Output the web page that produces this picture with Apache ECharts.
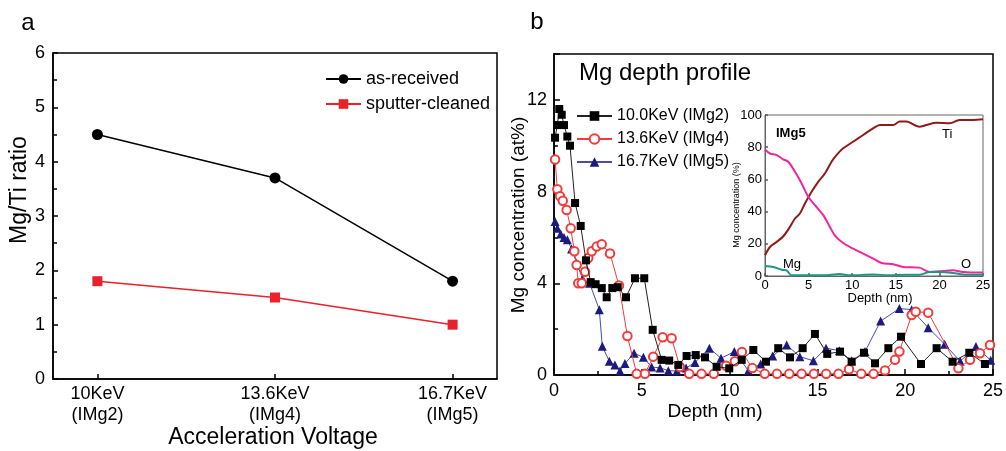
<!DOCTYPE html>
<html><head><meta charset="utf-8">
<script src="https://cdn.jsdelivr.net/npm/echarts@6/dist/echarts.min.js"></script>
<style>html,body{margin:0;padding:0;background:#fff}#c{width:1006px;height:451px}</style>
</head><body><div id="c"></div>
<script>
// ---------- Panel a ----------
const aCats = ['10KeV\n(IMg2)', '13.6KeV\n(IMg4)', '16.7KeV\n(IMg5)'];
const aPos = [0, 1, 2];
const asReceived = [4.5, 3.7, 1.8];
const sputterCleaned = [1.8, 1.5, 1.0];

// ---------- Panel b (main) ----------
const kev10X = [0.06,0.19,0.3,0.44,0.57,0.76,0.91,1.2,1.52,1.82,2.09,2.37,2.72,3.0,3.32,3.63,4.1,4.61,5.14,5.62,6.13,6.56,7.08,7.55,8.07,8.6,9.26,9.98,10.69,11.35,12.07,12.77,13.44,14.16,14.86,15.56,16.29,16.95,17.65,18.28,19.04,19.76,20.9,21.79,22.7,23.65,24.54];
const kev10Y = [10.35,10.9,11.6,11.35,10.9,10.4,10.0,7.5,6.5,5.0,4.05,3.96,3.79,3.39,3.79,3.83,3.39,4.22,4.22,1.97,0.66,0.63,0.44,0.83,0.87,0.77,0.36,0.29,0.66,1.09,0.58,1.17,0.77,1.17,1.79,0.92,1.02,0.58,0.97,0.51,1.17,1.67,0.48,1.17,0.58,0.97,0.48];

const kev136X = [0.06,0.19,0.34,0.5,0.72,0.95,1.16,1.29,1.38,1.58,1.77,1.95,2.15,2.43,2.72,3.19,3.7,4.18,4.71,5.18,5.65,6.19,6.7,7.17,7.7,8.4,9.1,9.8,10.3,10.7,11.3,12.0,12.7,13.4,14.1,14.8,15.5,16.2,16.8,17.5,18.2,18.85,19.42,19.67,20.37,20.6,21.31,23.03,23.69,24.26,24.83];
const kev136Y = [9.4,8.1,7.8,7.6,7.2,6.4,5.4,4.8,4.0,4.0,4.5,5.1,5.4,5.6,5.7,5.3,3.9,1.7,0.05,0.05,0.8,1.65,1.6,0.35,0.05,0.05,0.05,0.4,0.6,1.0,0.3,0.05,0.05,0.05,0.05,0.05,0.05,0.05,0.25,0.05,0.05,0.2,0.66,1.02,2.62,2.76,2.72,0.29,0.66,0.95,1.31];

const kev167X = [0.06,0.19,0.38,0.57,0.76,1.0,1.29,1.63,2.03,2.58,2.75,3.15,3.47,3.76,4.04,4.56,5.09,5.56,6.04,6.51,7.0,7.52,8.03,8.85,9.51,10.27,11.07,11.77,12.45,13.25,14.0,14.77,15.49,16.25,16.95,17.71,18.6,19.67,20.37,21.31,22.25,23.13,24.03,24.87];
const kev167Y = [6.7,6.4,6.15,6.0,5.9,5.5,4.88,4.2,4.0,2.85,1.25,0.6,0.44,0.17,0.5,0.95,0.77,0.35,0.31,0.19,0.17,0.3,0.55,1.17,0.73,1.02,0.19,0.48,0.83,1.31,0.8,0.62,1.17,1.06,0.62,1.02,2.35,2.9,2.85,2.06,1.34,0.6,1.24,0.64];

// ---------- Panel b inset (IMg5) ----------
const tiX = [0,0.57,1.34,2.1,2.86,3.44,4.0,4.58,5.34,6.1,6.87,7.63,8.2,8.97,10.1,11.26,12.4,13.17,14.7,15.46,16.2,17.7,18.5,19.66,21.2,22.3,23.85,25];
const tiY = [12.9,18,21.2,24.7,30.5,35.7,38.8,45,52.3,58.5,63.7,71,75.1,79.3,83.4,87.6,91.7,93.8,93.8,95.9,95.9,92.7,93.8,95.2,94.8,96.9,96.9,97.3];
const oX = [0,0.57,1.34,2.1,2.67,3.44,4.2,4.96,5.73,6.68,7.44,8.0,8.97,10.1,11.26,12.4,13.36,14.7,15.84,17.7,18.9,20.0,21.56,22.7,25];
const oY = [78.6,76.1,75.1,72.4,71,64.7,57.5,49.2,44,37.8,30.5,25.3,20.5,17,13.9,10.8,8.1,7.3,5.6,5.2,2.5,2.9,3.5,2.5,2.1];
const mgX = [0,0.95,1.9,2.48,3.05,4.77,6.68,8.6,9.7,12.4,14.3,16.2,17.7,18.9,20,21.56,23.1,25];
const mgY = [6.2,5.6,3.9,3.5,0.4,0.4,0.4,1.2,0.4,1.0,0.4,0.8,0.8,2.5,2.5,1.9,0.8,0.8];

const FONT = '"Liberation Sans", Arial, sans-serif';
const zip = (xs, ys) => xs.map((x, i) => [x, ys[i]]);

const chart = echarts.init(document.getElementById('c'));

function tick(len, color, extra) {
  return Object.assign({show: true, inside: true, length: len, lineStyle: {color: color, width: 1.5}}, extra || {});
}
function minorT(len, color) {
  return {show: true, splitNumber: 2, length: len, lineStyle: {color: color, width: 1.5}};
}
function axLine(color, w) {
  return {show: true, onZero: false, lineStyle: {color: color, width: w}};
}

chart.setOption({
  animation: false,
  backgroundColor: '#fff',
  textStyle: {fontFamily: FONT, color: '#000'},
  grid: [
    {left: 53, top: 53, width: 444, height: 326, show: true, borderColor: '#000', borderWidth: 1.5, outerBoundsMode: 'none'},
    {left: 554, top: 54, width: 439, height: 321, show: true, borderColor: '#000', borderWidth: 1.5, outerBoundsMode: 'none'},
    {left: 765, top: 115, width: 218, height: 161, show: true, borderColor: '#666', borderWidth: 1, backgroundColor: '#fff', outerBoundsMode: 'none'}
  ],
  xAxis: [
    {gridIndex: 0, type: 'value', min: -0.25, max: 2.25, splitLine: {show: false}, axisLine: axLine('#000', 1.5),
     axisTick: tick(5, '#000', {customValues: aPos}),
     axisLabel: {customValues: aPos, formatter: v => aCats[Math.round(v)], fontSize: 18, lineHeight: 21, margin: 5, color: '#000', fontFamily: FONT}},
    {gridIndex: 1, type: 'value', min: 0, max: 25, interval: 5, splitLine: {show: false}, axisLine: axLine('#000', 1.5),
     axisTick: tick(6, '#000'), minorTick: minorT(4, '#000'),
     axisLabel: {fontSize: 18, margin: 7, color: '#000', fontFamily: FONT}},
    {gridIndex: 2, type: 'value', min: 0, max: 25, interval: 5, splitLine: {show: false}, axisLine: axLine('#666', 1),
     axisTick: tick(3, '#555'),
     axisLabel: {fontSize: 13, margin: 3, color: '#000', fontFamily: FONT}}
  ],
  yAxis: [
    {gridIndex: 0, type: 'value', min: 0, max: 6, interval: 1, splitLine: {show: false}, axisLine: axLine('#000', 1.5),
     axisTick: tick(5, '#000'), minorTick: minorT(4, '#000'),
     axisLabel: {fontSize: 18, margin: 8, color: '#000', fontFamily: FONT}},
    {gridIndex: 1, type: 'value', min: 0, max: 14, interval: 4, splitLine: {show: false}, axisLine: axLine('#000', 1.5),
     axisTick: tick(6, '#000'), minorTick: minorT(4, '#000'),
     axisLabel: {fontSize: 18, margin: 7, color: '#000', fontFamily: FONT, showMaxLabel: false, formatter: v => (v % 4 === 0 ? String(v) : '')}},
    {gridIndex: 2, type: 'value', min: 0, max: 100, interval: 20, splitLine: {show: false}, axisLine: axLine('#666', 1),
     axisTick: tick(3, '#555'),
     axisLabel: {fontSize: 13, margin: 3, color: '#000', fontFamily: FONT}}
  ],
  legend: [
    {left: 325, top: 70, orient: 'vertical', padding: 0, itemWidth: 35, itemHeight: 12, itemGap: 7,
     data: ['as-received', 'sputter-cleaned'], textStyle: {fontSize: 18, color: '#000', fontFamily: FONT}},
    {left: 576, top: 108, orient: 'vertical', padding: 0, itemWidth: 35, itemHeight: 12, itemGap: 7,
     data: ['10.0KeV (IMg2)', '13.6KeV (IMg4)', '16.7KeV (IMg5)'], textStyle: {fontSize: 16, color: '#000', fontFamily: FONT}}
  ],
  series: [
    {name: 'as-received', type: 'line', xAxisIndex: 0, yAxisIndex: 0, data: zip(aPos, asReceived),
     symbol: 'circle', symbolSize: 11, lineStyle: {color: '#000', width: 1.5}, itemStyle: {color: '#000'}},
    {name: 'sputter-cleaned', type: 'line', xAxisIndex: 0, yAxisIndex: 0, data: zip(aPos, sputterCleaned),
     symbol: 'rect', symbolSize: 10, lineStyle: {color: '#e8212b', width: 1.5}, itemStyle: {color: '#e8212b'}},

    {name: '10.0KeV (IMg2)', type: 'line', xAxisIndex: 1, yAxisIndex: 1, data: zip(kev10X, kev10Y),
     symbol: 'rect', symbolSize: 8, lineStyle: {color: '#222', width: 1}, itemStyle: {color: '#000'}, z: 4},
    {name: '13.6KeV (IMg4)', type: 'line', xAxisIndex: 1, yAxisIndex: 1, data: zip(kev136X, kev136Y),
     symbol: 'emptyCircle', symbolSize: 8.5, lineStyle: {color: '#f03c3c', width: 1}, itemStyle: {color: '#f03c3c', borderWidth: 1}, z: 3},
    {name: '16.7KeV (IMg5)', type: 'line', xAxisIndex: 1, yAxisIndex: 1, data: zip(kev167X, kev167Y),
     symbol: 'triangle', symbolSize: 9, lineStyle: {color: '#4a4ab0', width: 1}, itemStyle: {color: '#1c1a7e'}, z: 2},

    {name: 'Ti', type: 'line', xAxisIndex: 2, yAxisIndex: 2, data: zip(tiX, tiY), smooth: 0.3,
     showSymbol: false, symbol: 'none', lineStyle: {color: '#8e1b1b', width: 2}},
    {name: 'O', type: 'line', xAxisIndex: 2, yAxisIndex: 2, data: zip(oX, oY), smooth: 0.3,
     showSymbol: false, symbol: 'none', lineStyle: {color: '#f0269a', width: 2}},
    {name: 'Mg', type: 'line', xAxisIndex: 2, yAxisIndex: 2, data: zip(mgX, mgY), smooth: 0.3,
     showSymbol: false, symbol: 'none', lineStyle: {color: '#1e958a', width: 2}}
  ],
  graphic: [
    {type: 'text', x: 28, y: 23, style: {text: 'a', font: '24px ' + FONT, fill: '#000', align: 'center', verticalAlign: 'middle'}},
    {type: 'text', x: 537, y: 22, style: {text: 'b', font: '24px ' + FONT, fill: '#000', align: 'center', verticalAlign: 'middle'}},
    {type: 'text', x: 20, y: 190, rotation: Math.PI / 2, style: {text: 'Mg/Ti ratio', font: '23px ' + FONT, fill: '#000', align: 'center', verticalAlign: 'middle'}},
    {type: 'text', x: 273, y: 438, style: {text: 'Acceleration Voltage', font: '23px ' + FONT, fill: '#000', align: 'center', verticalAlign: 'middle'}},
    {type: 'text', x: 579, y: 73, style: {text: 'Mg depth profile', font: '24px ' + FONT, fill: '#000', align: 'left', verticalAlign: 'middle'}},
    {type: 'text', x: 519, y: 215, rotation: Math.PI / 2, style: {text: 'Mg concentration (at%)', font: '19px ' + FONT, fill: '#000', align: 'center', verticalAlign: 'middle'}},
    {type: 'text', x: 715, y: 412, style: {text: 'Depth (nm)', font: '19px ' + FONT, fill: '#000', align: 'center', verticalAlign: 'middle'}},
    {type: 'text', x: 880, y: 298, style: {text: 'Depth (nm)', font: '13px ' + FONT, fill: '#000', align: 'center', verticalAlign: 'middle'}},
    {type: 'text', x: 737, y: 205, rotation: Math.PI / 2, style: {text: 'Mg concentration (%)', font: '9px ' + FONT, fill: '#000', align: 'center', verticalAlign: 'middle'}},
    {type: 'text', x: 776, y: 133, style: {text: 'IMg5', font: 'bold 13px ' + FONT, fill: '#000', align: 'left', verticalAlign: 'middle'}},
    {type: 'text', x: 942, y: 134, style: {text: 'Ti', font: '13px ' + FONT, fill: '#000', align: 'left', verticalAlign: 'middle'}},
    {type: 'text', x: 783, y: 264, style: {text: 'Mg', font: '13px ' + FONT, fill: '#000', align: 'left', verticalAlign: 'middle'}},
    {type: 'text', x: 961, y: 264, style: {text: 'O', font: '13px ' + FONT, fill: '#000', align: 'left', verticalAlign: 'middle'}}
  ]
});
</script>
</body></html>
